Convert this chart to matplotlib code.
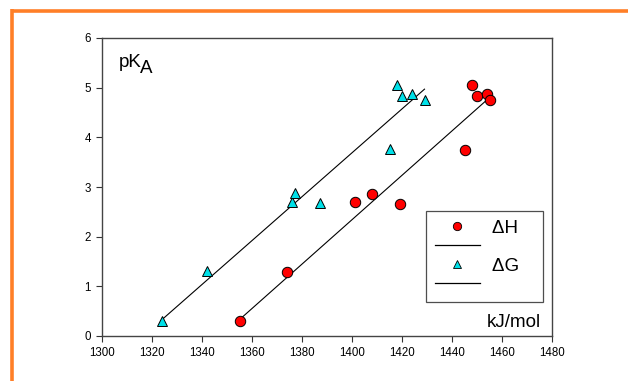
import matplotlib
matplotlib.use("Agg")
import matplotlib.pyplot as plt
from matplotlib.lines import Line2D

plt.rcParams['font.family'] = ['Liberation Sans', 'DejaVu Sans']

# Delta H points (circles)
h_x = [1355, 1374, 1401, 1408, 1419, 1445, 1448, 1450, 1454, 1455]
h_y = [0.30, 1.28, 2.69, 2.86, 2.66, 3.75, 5.06, 4.83, 4.87, 4.76]
# Delta G points (triangles)
g_x = [1324, 1342, 1376, 1377, 1387, 1415, 1418, 1420, 1424, 1429]
g_y = [0.31, 1.30, 2.70, 2.87, 2.67, 3.76, 5.06, 4.83, 4.87, 4.76]
# fitted lines (end points)
h_line_x = [1355, 1455]
h_line_y = [0.33, 4.80]
g_line_x = [1324, 1429]
g_line_y = [0.33, 4.97]

xticks = [1300, 1320, 1340, 1360, 1380, 1400, 1420, 1440, 1460, 1480]
yticks = [0, 1, 2, 3, 4, 5, 6]

orange = '#FF7F27'
red = '#FF0000'
cyan = '#00E0E8'

fig = plt.figure(figsize=(6.28, 3.81), dpi=100)
# orange frame lines on top and left
fig.add_artist(Line2D([11.5 / 628, 1.0], [1 - 10.5 / 381] * 2, color=orange, lw=2.6,
                      transform=fig.transFigure, solid_capstyle='butt'))
fig.add_artist(Line2D([11.5 / 628] * 2, [0.0, 1 - 9 / 381], color=orange, lw=2.6,
                      transform=fig.transFigure, solid_capstyle='butt'))

ax = fig.add_axes([102 / 628, 45 / 381, 450 / 628, 298 / 381])

ax.plot(h_line_x, h_line_y, color='black', lw=0.8)
ax.plot(g_line_x, g_line_y, color='black', lw=0.8)
ax.plot(h_x, h_y, 'o', color=red, mec='black', mew=0.7, ms=7.5, zorder=3)
ax.plot(g_x, g_y, '^', color=cyan, mec='black', mew=0.7, ms=7, zorder=3)

ax.set_xlim(1300, 1480)
ax.set_ylim(0, 6)
ax.set_xticks(xticks)
ax.set_yticks(yticks)
ax.tick_params(direction='out', length=4, width=0.8, labelsize=8.3, pad=4, colors='#333333',
               labelcolor='black')
for side in ['left', 'bottom', 'top', 'right']:
    ax.spines[side].set_color('#444444')
    ax.spines[side].set_linewidth(1.0)

# axis names placed inside the plot
fig.text(119 / 628, 1 - 67 / 381, 'pK', fontsize=13.5, va='baseline', ha='left')
fig.text(140 / 628, 1 - 73 / 381, 'A', fontsize=13.5, va='baseline', ha='left')
ax.text(0.975, 0.03, 'kJ/mol', transform=ax.transAxes, fontsize=13.5,
        va='baseline', ha='right')

handles = [
    Line2D([], [], ls='none', marker='o', color=red, mec='black', mew=0.6, ms=6),
    Line2D([], [], color='black', lw=0.9),
    Line2D([], [], ls='none', marker='^', color=cyan, mec='black', mew=0.6, ms=5.5),
    Line2D([], [], color='black', lw=0.9),
]
labels = ['\u0394H   ', '', '\u0394G   ', '']
leg = ax.legend(handles, labels, loc='lower right', fontsize=13.5, frameon=True,
                fancybox=False, handlelength=2.45, handletextpad=0.6, borderpad=0.45,
                labelspacing=0.1, borderaxespad=0)
leg.get_frame().set_edgecolor('#222222')
leg.get_frame().set_linewidth(0.9)
leg.set_bbox_to_anchor((543 / 628, 79 / 381), transform=fig.transFigure)

fig.savefig('out.png', dpi=100)
